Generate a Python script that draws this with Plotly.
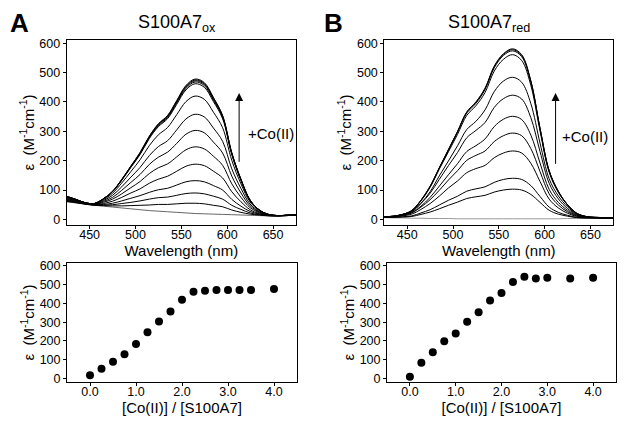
import plotly.graph_objects as go

FONT = "Liberation Sans, Arial, sans-serif"

# ── Datos ─────────────────────────────────────────────────────────────────────
WAVELENGTH = [425, 435, 445, 455, 465, 475, 485, 495, 505, 515, 525, 535, 545,
              555, 565, 575, 585, 595, 605, 615, 625, 635, 645, 655, 665, 675]

# S100A7 oxidada: espectros a lo largo de la titulación con Co(II)
OX_00 = [60, 56, 52, 48, 45, 42, 39, 36, 33, 30, 28, 26, 24, 22, 20, 19, 18, 17, 16, 15, 14, 13, 12, 12, 13, 14]
OX_01 = [61, 57, 52, 48, 47, 46, 46, 47, 48, 49, 51, 51, 53, 55, 55, 53, 48, 43, 32, 24, 18, 15, 12, 12, 13, 14]
OX_02 = [63, 58, 53, 49, 49, 50, 54, 58, 63, 69, 74, 76, 82, 88, 90, 87, 79, 69, 48, 34, 22, 16, 13, 12, 13, 14]
OX_03 = [65, 59, 53, 50, 51, 55, 63, 72, 81, 92, 101, 106, 117, 128, 132, 128, 115, 100, 68, 45, 27, 18, 13, 12, 13, 14]
OX_04 = [67, 61, 54, 50, 54, 62, 75, 90, 104, 123, 137, 147, 164, 181, 188, 183, 164, 141, 94, 60, 33, 20, 14, 12, 13, 14]
OX_05 = [69, 62, 55, 51, 58, 69, 87, 108, 129, 156, 176, 189, 213, 237, 247, 240, 215, 184, 121, 75, 40, 23, 15, 13, 14, 15]
OX_06 = [71, 64, 55, 52, 61, 75, 99, 126, 153, 187, 212, 229, 259, 290, 303, 295, 263, 226, 147, 90, 46, 25, 15, 13, 14, 15]
OX_07 = [74, 65, 56, 53, 64, 82, 111, 144, 177, 217, 248, 268, 305, 342, 358, 349, 311, 266, 172, 105, 52, 27, 16, 13, 14, 15]
OX_08 = [76, 67, 56, 53, 67, 89, 124, 163, 203, 251, 288, 313, 357, 401, 420, 409, 365, 312, 201, 121, 59, 30, 16, 13, 14, 15]
OX_09 = [78, 68, 57, 54, 70, 94, 133, 177, 221, 275, 316, 343, 392, 441, 462, 450, 401, 343, 220, 132, 64, 32, 17, 13, 14, 15]
OX_10 = [78, 68, 57, 54, 70, 95, 134, 179, 223, 278, 319, 347, 397, 446, 468, 456, 406, 347, 223, 134, 65, 32, 17, 13, 14, 15]
OX_11 = [78, 68, 57, 54, 70, 95, 135, 180, 225, 280, 322, 350, 400, 450, 472, 460, 410, 350, 225, 135, 65, 32, 17, 13, 14, 15]
OX_12 = [78, 68, 57, 54, 70, 95, 136, 181, 227, 282, 324, 352, 403, 453, 475, 463, 413, 352, 226, 136, 65, 32, 17, 13, 14, 15]
OX_13 = [79, 68, 57, 54, 70, 96, 136, 182, 228, 283, 326, 354, 405, 456, 478, 466, 415, 354, 227, 137, 66, 32, 17, 13, 14, 15]

# S100A7 reducida
RED_00 = [6, 5, 5, 4, 4, 3, 3, 3, 2, 2, 2, 2, 2, 2, 2, 2, 2, 2, 2, 2, 3, 3, 4, 4, 5, 5]
RED_01 = [7, 7, 8, 10, 17, 25, 36, 48, 59, 71, 77, 82, 93, 100, 103, 100, 85, 58, 31, 18, 11, 6, 5, 5, 5, 5]
RED_02 = [7, 7, 9, 12, 22, 33, 49, 65, 79, 96, 104, 111, 126, 136, 140, 136, 115, 78, 42, 24, 14, 7, 5, 5, 5, 5]
RED_03 = [8, 9, 12, 18, 34, 54, 79, 107, 131, 159, 173, 184, 210, 226, 233, 226, 191, 129, 69, 39, 21, 10, 6, 5, 5, 5]
RED_04 = [9, 9, 14, 22, 42, 67, 99, 134, 166, 201, 218, 233, 265, 285, 294, 285, 241, 163, 87, 49, 26, 12, 7, 6, 5, 5]
RED_05 = [9, 10, 14, 23, 45, 75, 113, 152, 190, 231, 251, 274, 316, 341, 351, 340, 287, 192, 102, 58, 31, 14, 8, 6, 5, 5]
RED_06 = [9, 10, 16, 26, 54, 89, 136, 183, 228, 278, 303, 330, 381, 411, 423, 410, 346, 231, 123, 70, 37, 16, 8, 6, 5, 5]
RED_07 = [8, 10, 15, 26, 55, 94, 148, 199, 251, 306, 334, 373, 435, 471, 484, 467, 394, 260, 138, 80, 43, 18, 9, 6, 6, 6]
RED_08 = [9, 11, 17, 29, 63, 109, 171, 230, 290, 354, 387, 432, 505, 545, 561, 541, 456, 301, 160, 92, 49, 20, 10, 7, 6, 6]
RED_09 = [9, 11, 17, 30, 64, 111, 174, 235, 297, 362, 395, 442, 516, 558, 574, 554, 467, 308, 164, 94, 50, 21, 10, 7, 6, 6]
RED_10 = [9, 11, 17, 30, 65, 112, 175, 237, 299, 365, 398, 445, 520, 562, 578, 558, 470, 310, 165, 95, 50, 21, 10, 7, 6, 6]
RED_11 = [9, 11, 17, 30, 65, 113, 176, 238, 300, 366, 400, 447, 522, 564, 581, 561, 472, 311, 166, 96, 50, 21, 10, 7, 6, 6]

SPEC_OX = [OX_00, OX_01, OX_02, OX_03, OX_04, OX_05, OX_06, OX_07,
           OX_08, OX_09, OX_10, OX_11, OX_12, OX_13]
SPEC_RED = [RED_00, RED_01, RED_02, RED_03, RED_04, RED_05, RED_06,
            RED_07, RED_08, RED_09, RED_10, RED_11]

# Curvas de titulación (ε a ~565 nm)
RATIO_OX = [0.0, 0.25, 0.5, 0.75, 1.0, 1.25, 1.5, 1.75, 2.0, 2.25, 2.5, 2.75, 3.0, 3.25, 3.5, 4.0]
EPS_OX = [18, 52, 89, 129, 184, 246, 304, 357, 420, 462, 468, 472, 472, 472, 472, 477]
RATIO_RED = [0.0, 0.25, 0.5, 0.75, 1.0, 1.25, 1.5, 1.75, 2.0, 2.25, 2.5, 2.75, 3.0, 3.5, 4.0]
EPS_RED = [10, 84, 140, 199, 240, 302, 353, 416, 455, 514, 542, 533, 537, 533, 537]

YTICKS = [0, 100, 200, 300, 400, 500, 600]
WL_TICKS = [450, 500, 550, 600, 650]
RATIO_TICKS = [0.0, 1.0, 2.0, 3.0, 4.0]

W, H = 626, 424
EPS_TITLE = "ε  (M<sup>-1</sup>cm<sup>-1</sup>)"


def px_x(a, b):
    return [a / W, b / W]


def px_y(top, bottom):
    return [1 - bottom / H, 1 - top / H]


fig = go.Figure()

# ── Espectros ─────────────────────────────────────────────────────────────────
for k, spec in enumerate(SPEC_OX):
    fig.add_trace(go.Scatter(
        x=WAVELENGTH, y=spec, mode="lines", line_shape="spline",
        line=dict(color="#666" if k == 0 else "black", width=1),
        showlegend=False, xaxis="x", yaxis="y",
    ))
for k, spec in enumerate(SPEC_RED):
    fig.add_trace(go.Scatter(
        x=WAVELENGTH, y=spec, mode="lines", line_shape="spline",
        line=dict(color="#999" if k == 0 else "black", width=1),
        showlegend=False, xaxis="x2", yaxis="y2",
    ))

# ── Titulaciones ──────────────────────────────────────────────────────────────
fig.add_trace(go.Scatter(x=RATIO_OX, y=EPS_OX, mode="markers",
                         marker=dict(color="black", size=8),
                         showlegend=False, xaxis="x3", yaxis="y3"))
fig.add_trace(go.Scatter(x=RATIO_RED, y=EPS_RED, mode="markers",
                         marker=dict(color="black", size=8),
                         showlegend=False, xaxis="x4", yaxis="y4"))

axis_common = dict(
    showline=True, linecolor="black", linewidth=1, mirror=True,
    ticks="outside", ticklen=3, tickwidth=1, tickcolor="black",
    showgrid=False, zeroline=False,
    tickfont=dict(family=FONT, size=12.5, color="black"),
    title_font=dict(family=FONT, size=15, color="black"),
)
x_common = dict(axis_common, ticklabelstandoff=-5)

top_y = px_y(37.3, 226)
bot_y = px_y(264, 385.7)

fig.update_layout(
    width=W, height=H,
    margin=dict(l=0, r=0, t=0, b=0),
    paper_bgcolor="white", plot_bgcolor="white",
    font=dict(family=FONT, color="black"),
    xaxis=dict(x_common, domain=px_x(66.7, 296), anchor="y", range=[425, 675],
               tickvals=WL_TICKS, title=dict(text="Wavelength (nm)", standoff=0)),
    yaxis=dict(axis_common, domain=top_y, anchor="x", range=[-20, 612],
               tickvals=YTICKS, title=dict(text=EPS_TITLE, standoff=1)),
    xaxis2=dict(x_common, domain=px_x(384.3, 613.3), anchor="y2", range=[425, 675],
                tickvals=WL_TICKS, title=dict(text="Wavelength (nm)", standoff=0)),
    yaxis2=dict(axis_common, domain=top_y, anchor="x2", range=[-20, 612],
                tickvals=YTICKS, title=dict(text=EPS_TITLE, standoff=1)),
    xaxis3=dict(x_common, domain=px_x(67, 297), anchor="y3", range=[-0.5, 4.5],
                tickvals=RATIO_TICKS, tickformat=".1f",
                title=dict(text="[Co(II)] / [S100A7]", standoff=0)),
    yaxis3=dict(axis_common, domain=bot_y, anchor="x3", range=[-20, 617],
                tickvals=YTICKS, title=dict(text=EPS_TITLE, standoff=1)),
    xaxis4=dict(x_common, domain=px_x(387, 616), anchor="y4", range=[-0.5, 4.5],
                tickvals=RATIO_TICKS, tickformat=".1f",
                title=dict(text="[Co(II)] / [S100A7]", standoff=0)),
    yaxis4=dict(axis_common, domain=bot_y, anchor="x4", range=[-20, 617],
                tickvals=YTICKS, title=dict(text=EPS_TITLE, standoff=1)),
)

# ── Títulos, letras de panel y flechas ────────────────────────────────────────
for xc, label in [(177, "S100A7<sub>ox</sub>"), (489, "S100A7<sub>red</sub>")]:
    fig.add_annotation(x=xc / W, y=1 - 21 / H, xref="paper", yref="paper",
                       xanchor="center", yanchor="middle",
                       text=label, showarrow=False,
                       font=dict(family=FONT, size=18, color="black"))
for xc, label in [(19, "A"), (333, "B")]:
    fig.add_annotation(x=xc / W, y=1 - 20 / H, xref="paper", yref="paper",
                       xanchor="center", yanchor="middle",
                       text=f"<b>{label}</b>", showarrow=False,
                       font=dict(family=FONT, size=26, color="black"))

for xa, ya, x_tail, y_tail, xt, yt in [("x", "y", 613, 191, 621, 292),
                                        ("x2", "y2", 612, 184, 617, 284)]:
    head = 430
    fig.add_annotation(x=x_tail, y=head, ax=x_tail, ay=y_tail,
                       xref=xa, yref=ya, axref=xa, ayref=ya,
                       showarrow=True, arrowhead=2, arrowsize=1.6,
                       arrowwidth=1, arrowcolor="black", text="")
    fig.add_annotation(x=xt, y=yt, xref=xa, yref=ya, text="+Co(II)",
                       showarrow=False, xanchor="left",
                       font=dict(family=FONT, size=15, color="black"))

# el <body> trae 8 px de margen por defecto; se quita para que el lienzo
# quede alineado con la ventana
fig.write_html("out.html", config={"displayModeBar": False},
               post_script="document.body.style.margin='0';")
